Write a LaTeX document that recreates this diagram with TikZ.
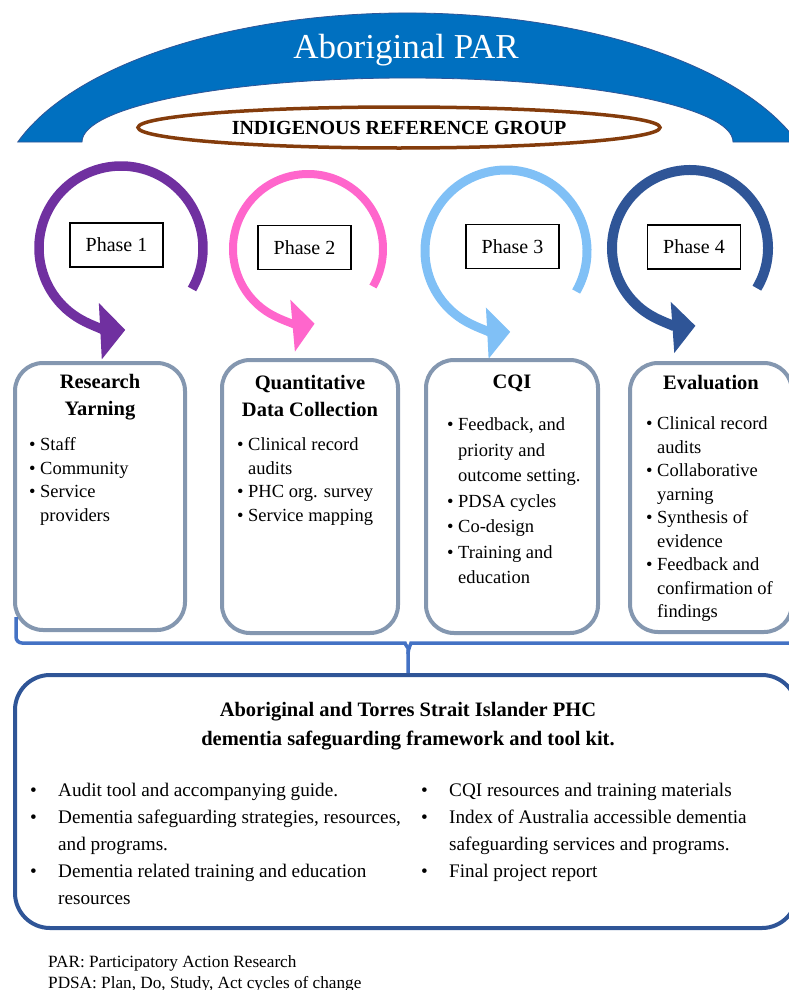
\documentclass[tikz,border=0pt]{standalone}
\usepackage{fontspec}
\setmainfont{Liberation Serif}
\usetikzlibrary{arrows.meta,shapes.geometric}

\definecolor{parblue}{HTML}{0070C0}
\definecolor{irgbrown}{HTML}{843C0C}
\definecolor{phaseone}{HTML}{7030A0}
\definecolor{phasetwo}{HTML}{FF66CC}
\definecolor{phasethree}{HTML}{80C0F6}
\definecolor{phasefour}{HTML}{2F5597}
\definecolor{boxgrey}{HTML}{8497B0}
\definecolor{bracketblue}{HTML}{4472C4}

\newcommand{\bulitem}{\makebox[11pt][l]{\textbullet}}
\newcommand{\bulcont}{\hspace*{11pt}}
\newcommand{\kititem}{\makebox[28pt][l]{\textbullet}}
\newcommand{\kitcont}{\hspace*{28pt}}

\begin{document}
\begin{tikzpicture}[
		x=1pt,
		y=1pt,
		phasebox/.style={draw, line width=1.2pt, fill=white, minimum width=93pt, minimum height=44pt, inner sep=0pt, font=\fontsize{20}{24}\selectfont},
		stagebox/.style={draw=boxgrey, line width=4pt, rounded corners=28pt, inner sep=0pt},
		stagetitle/.style={align=center, inner sep=0pt, font=\fontsize{20.5}{27}\selectfont\bfseries},
		stagelist/.style={anchor=north west, align=left, inner sep=0pt, font=\fontsize{18.5}{23.5}\selectfont},
		kitlist/.style={anchor=north west, align=left, inner sep=0pt, font=\fontsize{19.2}{27}\selectfont},
		bracket/.style={draw=bracketblue, line width=3.5pt, rounded corners=6pt}
	]
	\useasboundingbox (0,0) rectangle (789,-990);
	\clip (0,0) rectangle (789,-990);

	% PAR arch and reference group
	\fill[parblue, draw=phasefour, line width=0.8pt] (17.7,-142) arc[start angle=161.93, end angle=18.07, x radius=410, y radius=187]
		-- (733,-142) arc[start angle=0, end angle=180, x radius=325.5, y radius=64] -- cycle;
	\node[text=white, font=\fontsize{35}{40}\selectfont] (par) at (406,-50) {Aboriginal PAR};
	\node[ellipse, draw=irgbrown, line width=3.5pt, minimum width=522pt, minimum height=41pt, inner sep=0pt, font=\fontsize{20}{23}\selectfont\bfseries] (irg) at (399,-127.5) {INDIGENOUS REFERENCE GROUP};

	% phase cycles
	\draw[phaseone, line width=9.5pt, -{Triangle[width=55pt,length=25pt]}] (121,-248) ++(-30:82) arc[start angle=-30, end angle=273, radius=82];
	\draw[phasetwo, line width=8pt, -{Triangle[width=51pt,length=22pt]}] (308,-249) ++(-30:75) arc[start angle=-30, end angle=275, radius=75];
	\draw[phasethree, line width=9pt, -{Triangle[width=50pt,length=23pt]}] (506,-251) ++(-30:81) arc[start angle=-30, end angle=273, radius=81];
	\draw[phasefour, line width=10pt, -{Triangle[width=50pt,length=23pt]}] (690,-248) ++(-31:78) arc[start angle=-31, end angle=274, radius=78];

	\node[phasebox] (ph1) at (116.5,-245) {Phase 1};
	\node[phasebox] (ph2) at (304.5,-247.5) {Phase 2};
	\node[phasebox] (ph3) at (512.5,-246.5) {Phase 3};
	\node[phasebox] (ph4) at (694,-247) {Phase 4};

	% stage boxes
	\node[stagebox, minimum width=170pt, minimum height=267pt] (yarn) at (100,-496.5) {};
	\node[stagebox, minimum width=176pt, minimum height=273pt] (quant) at (310,-496.5) {};
	\node[stagebox, minimum width=172pt, minimum height=273pt] (cqi) at (512,-496.5) {};
	\node[stagebox, minimum width=162pt, minimum height=269pt] (eval) at (711,-497.5) {};

	\node[stagetitle] (yarnt) at (100,-397) {Research\\Yarning};
	\node[stagetitle] (quantt) at (310,-396) {Quantitative\\Data Collection};
	\node[stagetitle] (cqit) at (512,-383) {CQI};
	\node[stagetitle] (evalt) at (711,-383) {Evaluation};

	\node[stagelist] (yarnl) at (29,-437.5) {\bulitem Staff\\\bulitem Community\\\bulitem Service\\\bulcont providers};
	\node[stagelist] (quantl) at (237,-437.5) {\bulitem Clinical record\\\bulcont audits\\\bulitem PHC org. survey\\\bulitem Service mapping};
	\node[stagelist, font=\fontsize{18.5}{25.5}\selectfont] (cqil) at (447,-417.5) {\bulitem Feedback, and\\\bulcont priority and\\\bulcont outcome setting.\\\bulitem PDSA cycles\\\bulitem Co-design\\\bulitem Training and\\\bulcont education};
	\node[stagelist] (evall) at (646,-416.5) {\bulitem Clinical record\\\bulcont audits\\\bulitem Collaborative\\\bulcont yarning\\\bulitem Synthesis of\\\bulcont evidence\\\bulitem Feedback and\\\bulcont confirmation of\\\bulcont findings};

	% framework and tool kit
	\node[draw=phasefour, line width=4pt, rounded corners=35pt, minimum width=782pt, minimum height=253pt, inner sep=0pt] (kit) at (406,-801.5) {};
	\node[align=center, inner sep=0pt, font=\fontsize{20.5}{29}\selectfont\bfseries] (kitt) at (408,-726.5) {Aboriginal and Torres Strait Islander PHC\\dementia safeguarding framework and tool kit.};
	\node[kitlist] (kitl) at (30,-783) {\kititem Audit tool and accompanying guide.\\\kititem Dementia safeguarding strategies, resources,\\\kitcont and programs.\\\kititem Dementia related training and education\\\kitcont resources};
	\node[kitlist] (kitr) at (421,-783) {\kititem CQI resources and training materials\\\kititem Index of Australia accessible dementia\\\kitcont safeguarding services and programs.\\\kititem Final project report};

	% bracket from phases to tool kit
	\coordinate (brl) at ([shift={(3pt,15pt)}]yarn.south west);
	\coordinate (cusp) at (408,-643);
	\coordinate (brr) at (800,-643);
	\draw[bracket] (brl) |- ([xshift=-9pt]cusp) to[out=0, in=90] ([yshift=-11pt]cusp) -- (cusp |- kit.north);
	\draw[bracket] (brr) -- ([xshift=9pt]cusp) to[out=180, in=90] ([yshift=-11pt]cusp);

	% abbreviations
	\node[anchor=north west, align=left, inner sep=0pt, font=\fontsize{17.2}{21}\selectfont] (abbr) at (48,-955) {PAR: Participatory Action Research\\PDSA: Plan, Do, Study, Act cycles of change};
\end{tikzpicture}
\end{document}
